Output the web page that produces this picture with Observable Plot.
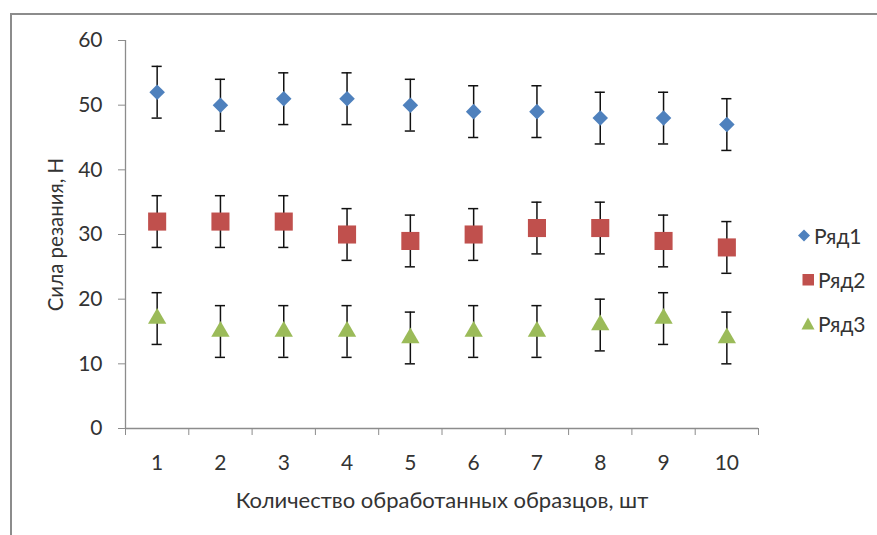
<!DOCTYPE html>
<html>
<head>
<meta charset="utf-8">
<script src="https://cdn.jsdelivr.net/npm/d3@7"></script>
<script src="https://cdn.jsdelivr.net/npm/@observablehq/plot@0.6"></script>
<style>
  body { margin: 0; background: #fff; }
  #wrap { position: relative; width: 877px; height: 535px; overflow: hidden; background: #fff; font-family: Lato, "Open Sans", sans-serif; }
  #frame { position: absolute; left: 10px; top: 13px; width: 900px; height: 600px; border-left: 2px solid #8c8c8c; border-top: 2px solid #8c8c8c; }
  #chart { position: absolute; left: 0; top: 0; }
  #legend { position: absolute; left: 797px; top: 213px; }
  .item { display: flex; align-items: center; height: 44px; font-size: 21px; color: #333; }
  .item svg { margin-right: 3px; }
</style>
</head>
<body>
<div id="wrap">
  <div id="frame"></div>
  <div id="chart"></div>
  <div id="legend"></div>
</div>
<script>
const categories = [1, 2, 3, 4, 5, 6, 7, 8, 9, 10];
const seriesNames = ["Ряд1", "Ряд2", "Ряд3"];
const ryad1 = [52, 50, 51, 51, 50, 49, 49, 48, 48, 47];
const ryad2 = [32, 32, 32, 30, 29, 30, 31, 31, 29, 28];
const ryad3 = [17, 15, 15, 15, 14, 15, 15, 16, 17, 14];
const errorSize = 4;
const yTicks = [0, 10, 20, 30, 40, 50, 60];
const xLabel = "Количество обработанных образцов, шт";
const yLabel = "Сила резания, Н";

const colors = ["#4f81bd", "#c0504d", "#9bbb59"];
const symbols = ["diamond2", "square", "triangle"];
const radii = [7, 10.2, 6.8];

const seriesValues = [ryad1, ryad2, ryad3];
const rows = [];
seriesValues.forEach((vals, si) => {
  vals.forEach((v, i) => rows.push({x: categories[i], y: v, s: seriesNames[si], si}));
});
const capHalf = 0.08;
const boundaries = d3.range(categories.length + 1).map(i => categories[0] - 0.5 + i);

const fontFamily = "Lato, 'Open Sans', sans-serif";
const textColor = "#333";
const axisColor = "#8c8c8c";

const markerMarks = seriesNames.map((name, si) =>
  Plot.dot(rows.filter(d => d.si === si), {
    x: "x", y: "y", symbol: () => symbols[si], r: radii[si],
    fill: colors[si], stroke: "none"
  })
);

const plot = Plot.plot({
  width: 877,
  height: 535,
  marginLeft: 125,
  marginRight: 119,
  marginTop: 40,
  marginBottom: 107,
  style: {fontFamily, fontSize: "21px", color: textColor, background: "transparent"},
  x: {domain: [boundaries[0], boundaries[boundaries.length - 1]]},
  y: {domain: [0, 60]},
  symbol: {type: "identity"},
  marks: [
    Plot.ruleX([boundaries[0]], {y1: 0, y2: 60, stroke: axisColor, strokeWidth: 1.3}),
    Plot.ruleY([0], {stroke: axisColor, strokeWidth: 1.3}),
    Plot.axisY({ticks: yTicks, tickSize: 7, tickPadding: 16, stroke: axisColor, fill: textColor, fontSize: 21, label: null}),
    Plot.axisY({ticks: [], tickSize: 0, fontSize: 20.5, fill: textColor,
      label: yLabel, labelAnchor: "center", labelArrow: "none", labelOffset: 77}),
    Plot.axisX({ticks: boundaries, tickFormat: () => "", tickSize: 7, stroke: axisColor, label: null}),
    Plot.axisX({ticks: categories, tickSize: 0, tickPadding: 27, fill: textColor, fontSize: 21, label: null}),
    Plot.axisX({ticks: [], tickSize: 0, fontSize: 22, fill: textColor,
      label: xLabel, labelAnchor: "center", labelArrow: "none", labelOffset: 79}),
    Plot.ruleX(rows, {x: "x", y1: d => d.y - errorSize, y2: d => d.y + errorSize, stroke: "#111", strokeWidth: 1.5}),
    Plot.ruleY(rows, {y: d => d.y + errorSize, x1: d => d.x - capHalf, x2: d => d.x + capHalf, stroke: "#111", strokeWidth: 1.5}),
    Plot.ruleY(rows, {y: d => d.y - errorSize, x1: d => d.x - capHalf, x2: d => d.x + capHalf, stroke: "#111", strokeWidth: 1.5}),
    ...markerMarks
  ]
});
document.getElementById("chart").appendChild(plot);

// legend
const legend = document.getElementById("legend");
const symShapes = [
  '<polygon points="6.5,0.5 12.5,6.5 6.5,12.5 0.5,6.5" fill="' + colors[0] + '"/>',
  '<rect x="1" y="1" width="11.5" height="11.5" fill="' + colors[1] + '"/>',
  '<polygon points="6.5,0.5 13,12.5 0,12.5" fill="' + colors[2] + '"/>'
];
seriesNames.forEach((name, i) => {
  const div = document.createElement("div");
  div.className = "item";
  div.innerHTML = '<svg width="14" height="13" viewBox="0 0 13 13" style="margin-left:' + (i === 0 ? 0 : 4) + 'px">' + symShapes[i] + '</svg><span>' + name + '</span>';
  legend.appendChild(div);
});
</script>
</body>
</html>
